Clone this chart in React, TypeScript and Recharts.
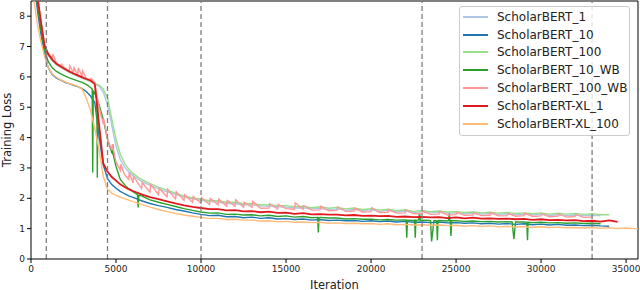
import React from "react";
import { LineChart, Line, XAxis, YAxis, ReferenceLine } from "recharts";

const FONT = "'DejaVu Sans', sans-serif";

// shared iteration grid
const iters = [
  0, 200, 400, 600, 800, 1000,
  1250, 1500, 1750, 2000, 2250, 2500, 2750, 3000, 3250, 3500,
  3750, 4000, 4250, 4500, 4750, 5000, 5250, 5500, 5750, 6000,
  6500, 7000, 7500, 8000, 8500, 9000, 9500,
  10000, 10500, 11000, 11500, 12000, 12500, 13000, 13500, 14000, 14500,
  15000, 15500, 16000, 16500, 17000, 17500, 18000, 18500, 19000, 19500,
  20000, 20500, 21000, 21500, 22000, 22500, 23000, 23500, 24000, 24500,
  25000, 25500, 26000, 26500, 27000, 27500, 28000, 28500, 29000, 29500,
  30000, 30500, 31000, 31500, 32000, 32500, 33000, 33500, 34000, 34500,
  35000, 35500, 35700,
];

const sb1 = [
  10.7, 9.5, 8.52, 7.72, 7.0, 6.72,
  6.54, 6.4, 6.31, 6.23, 6.15, 6.08, 6.02, 5.96, 5.9, 5.85,
  5.76, 5.7, 5.5, 5.08, 4.4, 3.72, 3.28, 3.03, 2.87, 2.75,
  2.56, 2.43, 2.31, 2.21, 2.13, 2.04, 1.98,
  1.93, 1.89, 1.88, 1.83, 1.83, 1.78, 1.79, 1.75, 1.74, 1.72,
  1.71, 1.68, 1.69, 1.65, 1.67, 1.62, 1.65, 1.61, 1.63, 1.59,
  1.62, 1.57, 1.6, 1.55, 1.58, 1.53, 1.56, 1.52, 1.54, 1.51,
  1.52, 1.49, 1.51, 1.48, 1.5, 1.47, 1.49, 1.46, 1.48, 1.45,
  1.47, 1.44, 1.46, 1.43, 1.45, 1.42, 1.44, 1.43, null, null,
  null, null, null,
];

const sb10 = [
  10.5, 9.0, 8.1, 7.35, 6.75, 6.32,
  6.08, 5.96, 5.89, 5.82, 5.78, 5.72, 5.68, 5.61, 5.52, 5.37,
  5.16, 4.05, 3.1, 2.65, 2.45, 2.33, 2.23, 2.15, 2.08, 2.03,
  1.92, 1.83, 1.76, 1.7, 1.63, 1.58, 1.52,
  1.47, 1.43, 1.44, 1.39, 1.4, 1.36, 1.38, 1.34, 1.36, 1.32,
  1.33, 1.3, 1.32, 1.28, 1.3, 1.27, 1.28, 1.26, 1.27, 1.24,
  1.26, 1.23, 1.25, 1.22, 1.24, 1.21, 1.22, 1.2, 1.22, 1.19,
  1.2, 1.18, 1.19, 1.16, 1.18, 1.15, 1.17, 1.14, 1.16, 1.13,
  1.15, 1.12, 1.14, 1.11, 1.12, 1.1, 1.11, 1.09, 1.08, null,
  null, null, null,
];

const sb100 = [
  10.8, 9.6, 8.55, 7.75, 7.02, 6.74,
  6.55, 6.41, 6.32, 6.24, 6.16, 6.09, 6.03, 5.97, 5.91, 5.85,
  5.78, 5.73, 5.6, 5.3, 4.62, 3.95, 3.46, 3.16, 2.96, 2.82,
  2.62, 2.48, 2.37, 2.27, 2.17, 2.08, 2.01,
  1.97, 1.92, 1.92, 1.87, 1.87, 1.82, 1.83, 1.78, 1.79, 1.76,
  1.76, 1.72, 1.74, 1.69, 1.72, 1.67, 1.7, 1.65, 1.68, 1.63,
  1.66, 1.61, 1.64, 1.59, 1.62, 1.57, 1.6, 1.56, 1.58, 1.55,
  1.56, 1.53, 1.55, 1.52, 1.54, 1.51, 1.53, 1.5, 1.52, 1.49,
  1.52, 1.48, 1.51, 1.48, 1.5, 1.47, 1.49, 1.46, 1.46, null,
  null, null, null,
];

const wb10 = [
  10.6, 9.2, 8.3, 7.5, 6.9, 6.52,
  6.3, 6.18, 6.1, 6.03, 5.97, 5.92, 5.87, 5.82, 5.75, 5.65,
  5.45, 5.08, 4.6, 3.95, 3.5, 3.05, 2.62, 2.45, 2.31, 2.22,
  2.08, 1.95, 1.87, 1.8, 1.73, 1.66, 1.6,
  1.55, 1.51, 1.52, 1.47, 1.48, 1.45, 1.46, 1.42, 1.44, 1.4,
  1.42, 1.38, 1.4, 1.36, 1.37, 1.35, 1.35, 1.32, 1.33, 1.31,
  1.31, 1.29, 1.3, 1.28, 1.29, 1.27, 1.28, 1.26, 1.27, 1.25,
  1.26, 1.24, 1.25, 1.23, 1.24, 1.22, 1.23, 1.21, 1.22, 1.2,
  1.21, 1.19, 1.2, 1.18, 1.19, 1.17, 1.18, 1.16, null, null,
  null, null, null,
];

// sharp drops / jumps of ScholarBERT_10_WB
const wb10Dips = [
  [3600, 5.6], [3630, 2.85], [3660, 5.55],
  [3870, 5.3], [3900, 2.68], [3930, 5.22],
  [4780, 3.48], [4820, 3.78], [4860, 3.38],
  [6260, 2.12], [6300, 1.7], [6340, 2.1],
  [16860, 1.37], [16900, 0.87], [16940, 1.36],
  [22060, 1.28], [22100, 0.7], [22140, 1.28],
  [22560, 1.28], [22600, 0.7], [22640, 1.28],
  [22800, 1.28], [22850, 1.52], [22900, 1.27],
  [23420, 1.27], [23560, 0.58], [23700, 1.27],
  [23860, 1.26], [23900, 0.62], [23940, 1.26],
  [24560, 1.26], [24600, 1.5], [24640, 1.26],
  [24660, 1.26], [24700, 0.76], [24740, 1.26],
  [28300, 1.22], [28400, 0.66], [28500, 1.22],
  [29160, 1.21], [29200, 0.62], [29240, 1.21],
];

const wb100 = [
  11.0, 9.7, 8.6, 7.8, 7.08, 6.8,
  6.6, 6.45, 6.36, 6.28, 6.2, 6.13, 6.07, 6.01, 5.95, 5.9,
  5.82, 5.0, 4.45, 3.95, 3.58, 3.2, 2.92, 2.78, 2.62, 2.5,
  2.32, 2.2, 2.12, 2.05, 1.98, 1.93, 1.87,
  1.83, 1.79, 1.78, 1.74, 1.74, 1.7, 1.7, 1.67, 1.68, 1.65,
  1.66, 1.63, 1.64, 1.61, 1.62, 1.59, 1.6, 1.57, 1.58, 1.55,
  1.56, 1.53, 1.54, 1.51, 1.52, 1.49, 1.5, 1.47, 1.48, 1.45,
  1.46, 1.44, 1.45, 1.43, 1.44, 1.42, 1.43, 1.41, 1.43, 1.4,
  1.42, 1.39, 1.41, 1.38, 1.4, 1.37, 1.38, null, null, null,
  null, null, null,
];

// loss spikes of ScholarBERT_100_WB
const wb100Peaks = [
  [1280, 6.75], [1780, 6.42], [2280, 6.36], [2530, 6.3], [2780, 6.3], [3030, 6.2], [3530, 5.95],
  [4280, 4.62], [4780, 3.78], [5280, 3.12], [5780, 2.85], [6030, 2.72],
  [6540, 2.52], [7040, 2.45], [7540, 2.33], [8040, 2.3], [8540, 2.22], [9040, 2.12], [9540, 2.06],
  [10040, 2.02], [10540, 2.0], [11040, 1.97], [11540, 1.93], [12040, 1.95], [12540, 1.87],
  [13040, 1.9], [14040, 1.82], [14540, 1.8], [15540, 1.85], [16040, 1.76], [17040, 1.74],
  [18040, 1.72], [19040, 1.68], [20040, 1.69], [21040, 1.63], [22040, 1.62], [23040, 1.58],
  [24040, 1.57], [25040, 1.54], [26040, 1.52], [27040, 1.53], [28040, 1.5], [29040, 1.51],
  [30040, 1.49], [31040, 1.48], [32040, 1.47],
];

const xl1 = [
  11.2, 9.9, 8.55, 7.75, 7.02, 6.76,
  6.57, 6.43, 6.34, 6.26, 6.18, 6.11, 6.05, 5.99, 5.93, 5.88,
  5.77, 4.45, 3.15, 2.88, 2.7, 2.58, 2.46, 2.37, 2.3, 2.24,
  2.13, 2.04, 1.97, 1.9, 1.83, 1.77, 1.72,
  1.68, 1.64, 1.64, 1.6, 1.61, 1.57, 1.58, 1.54, 1.56, 1.52,
  1.53, 1.49, 1.51, 1.47, 1.48, 1.46, 1.46, 1.44, 1.45, 1.42,
  1.43, 1.41, 1.42, 1.39, 1.4, 1.38, 1.39, 1.37, 1.38, 1.35,
  1.37, 1.34, 1.36, 1.33, 1.34, 1.32, 1.33, 1.31, 1.32, 1.29,
  1.31, 1.28, 1.29, 1.27, 1.28, 1.25, 1.26, 1.23, 1.27, 1.22,
  null, null, null,
];

const xl100 = [
  10.0, 8.4, 7.65, 7.12, 6.68, 6.32,
  6.1, 5.98, 5.9, 5.84, 5.78, 5.74, 5.69, 5.6, 5.3, 4.9,
  4.3, 3.6, 2.72, 2.3, 2.17, 2.1, 2.04, 1.99, 1.94, 1.89,
  1.8, 1.71, 1.63, 1.56, 1.5, 1.45, 1.41,
  1.37, 1.34, 1.34, 1.3, 1.31, 1.28, 1.28, 1.25, 1.26, 1.23,
  1.24, 1.21, 1.22, 1.2, 1.21, 1.18, 1.19, 1.17, 1.18, 1.16,
  1.17, 1.14, 1.16, 1.13, 1.14, 1.12, 1.13, 1.11, 1.12, 1.1,
  1.11, 1.08, 1.1, 1.07, 1.09, 1.06, 1.08, 1.05, 1.07, 1.04,
  1.06, 1.04, 1.05, 1.03, 1.04, 1.02, 1.04, 1.01, 1.03, 1.0,
  1.02, 1.0, 1.0,
];

const xTicks = [0, 5000, 10000, 15000, 20000, 25000, 30000, 35000];
const yTicks = [0, 1, 2, 3, 4, 5, 6, 7, 8];
const phaseMarks = [900, 4500, 10000, 23000, 33000];

type Pt = { it: number; loss: number };

function toPoints(values: (number | null)[], extra: number[][] = []): Pt[] {
  const pts: Pt[] = [];
  iters.forEach((it, i) => {
    if (values[i] != null) pts.push({ it, loss: values[i] as number });
  });
  extra.forEach(([it, loss]) => pts.push({ it, loss }));
  return pts.sort((a, b) => a.it - b.it);
}

const series = [
  { name: "ScholarBERT_1", color: "#aec7e8", width: 1.4, data: toPoints(sb1) },
  { name: "ScholarBERT_10", color: "#1f77b4", width: 1.4, data: toPoints(sb10) },
  { name: "ScholarBERT_100", color: "#98df8a", width: 1.4, data: toPoints(sb100) },
  { name: "ScholarBERT_10_WB", color: "#2ca02c", width: 1.4, data: toPoints(wb10, wb10Dips) },
  { name: "ScholarBERT_100_WB", color: "#ff9896", width: 1.4, data: toPoints(wb100, wb100Peaks) },
  { name: "ScholarBERT-XL_1", color: "#e0191c", width: 1.8, data: toPoints(xl1) },
  { name: "ScholarBERT-XL_100", color: "#ffbb78", width: 1.4, data: toPoints(xl100) },
];

function LegendBox() {
  return (
    <div
      style={{
        position: "absolute",
        left: 459,
        top: 6,
        width: 169,
        padding: "1px 0 2px",
        border: "1px solid #cccccc",
        borderRadius: 3,
        background: "rgba(255,255,255,0.8)",
        fontFamily: FONT,
        fontSize: 12,
        color: "#222",
      }}
    >
      {series.map((s) => (
        <div key={s.name} style={{ display: "flex", alignItems: "center", height: 17.8, whiteSpace: "nowrap" }}>
          <span style={{ display: "inline-block", width: 25, height: 2, marginLeft: 3, marginRight: 9, background: s.color }} />
          {s.name}
        </div>
      ))}
    </div>
  );
}

export default function App() {
  return (
    <div style={{ position: "relative", width: 640, height: 290, fontFamily: FONT }}>
      <style>{"body{margin:0}"}</style>
      <LineChart width={640} height={290} margin={{ top: 1, right: 2, bottom: 0, left: 0 }}>
        <XAxis
          type="number"
          dataKey="it"
          domain={[0, 35700]}
          ticks={xTicks}
          allowDataOverflow
          height={31}
          stroke="#000"
          tickSize={4}
          tickMargin={3}
          tick={{ fontSize: 9, fill: "#222", fontFamily: FONT }}
          label={{
            value: "Iteration",
            content: ({ viewBox }: any) => (
              <text
                x={viewBox.x + viewBox.width / 2}
                y={viewBox.y + 29.5}
                textAnchor="middle"
                fontSize={11.5}
                fill="#222"
                fontFamily={FONT}
              >
                Iteration
              </text>
            ),
          }}
        />
        <YAxis
          type="number"
          domain={[0, 8.5]}
          ticks={yTicks}
          allowDataOverflow
          width={31}
          stroke="#000"
          tickSize={4}
          tickMargin={2}
          tick={{ fontSize: 9, fill: "#222", fontFamily: FONT }}
          label={{
            value: "Training Loss",
            content: ({ viewBox }: any) => (
              <text
                transform={`translate(${viewBox.x + 11}, ${viewBox.y + viewBox.height / 2}) rotate(-90)`}
                textAnchor="middle"
                fontSize={11.5}
                fill="#222"
                fontFamily={FONT}
              >
                Training Loss
              </text>
            ),
          }}
        />
        <ReferenceLine y={8.5} stroke="#000" strokeWidth={1} />
        <ReferenceLine x={35700} stroke="#000" strokeWidth={1} />
        {series.map((s) => (
          <Line
            key={s.name}
            data={s.data}
            dataKey="loss"
            name={s.name}
            type="linear"
            stroke={s.color}
            strokeWidth={s.width}
            dot={false}
            activeDot={false}
            isAnimationActive={false}
          />
        ))}
        {phaseMarks.map((x) => (
          <ReferenceLine key={x} x={x} stroke="#7f7f7f" strokeWidth={1.3} strokeDasharray="5 3" />
        ))}
      </LineChart>
      <LegendBox />
    </div>
  );
}
